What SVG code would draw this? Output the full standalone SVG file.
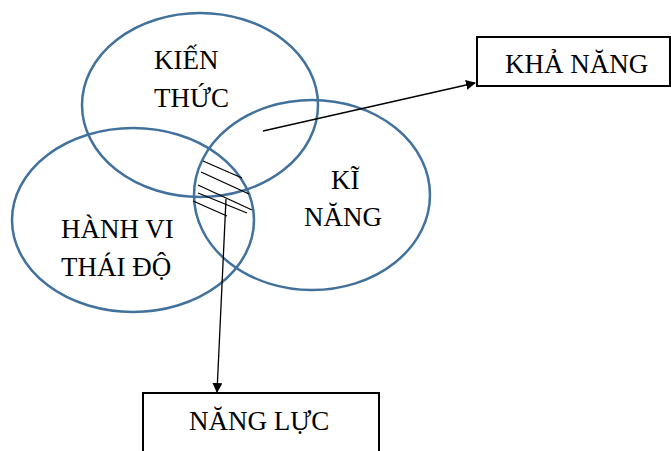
<svg xmlns="http://www.w3.org/2000/svg" width="671" height="451" viewBox="0 0 671 451">
<style>
.c{fill:none;stroke:#41719C;stroke-width:2.5}
.b{fill:#fff;stroke:#000;stroke-width:2}
.t{font-family:"Liberation Serif",serif;font-size:27px;fill:#000}
.h{stroke:#000;stroke-width:1.3}
.a{stroke:#000;stroke-width:1.3;fill:none}
</style>
<defs>
<marker id="ar" markerWidth="10" markerHeight="10" refX="9" refY="5" orient="auto" markerUnits="userSpaceOnUse" viewBox="0 0 10 10">
<path d="M0,0 L10,5 L0,10 z" fill="#000"/>
</marker>
</defs>
<g id="kien-thuc"><ellipse class="c" cx="200" cy="105" rx="118" ry="92"/>
<text class="t" x="154" y="69">KIẾN</text><text class="t" x="154" y="107">THỨC</text></g>
<g id="hanh-vi"><ellipse class="c" cx="133" cy="220" rx="121" ry="92"/>
<text class="t" x="61" y="238">HÀNH VI</text><text class="t" x="61" y="276">THÁI ĐỘ</text></g>
<g id="ki-nang"><ellipse class="c" cx="312" cy="195" rx="118" ry="95"/>
<text class="t" x="331" y="189">KĨ</text><text class="t" x="304" y="226">NĂNG</text></g>
<g id="hatch">
<line class="h" x1="203" y1="161" x2="242" y2="178"/>
<line class="h" x1="201" y1="172" x2="249" y2="194"/>
<line class="h" x1="198" y1="185" x2="252" y2="210"/>
<line class="h" x1="198" y1="193" x2="247" y2="213"/>
<line class="h" x1="193" y1="201" x2="227" y2="216"/>
</g>
<g id="kha-nang"><rect class="b" x="477" y="37" width="193" height="49"/>
<text class="t" x="505" y="73">KHẢ NĂNG</text></g>
<g id="nang-luc"><rect class="b" x="143" y="393" width="236" height="70"/>
<text class="t" x="189" y="430">NĂNG LỰC</text></g>
<g id="connectors">
<line class="a" x1="263" y1="131" x2="475" y2="83" marker-end="url(#ar)"/>
<line class="a" x1="226" y1="199" x2="217" y2="392" marker-end="url(#ar)"/>
</g>
</svg>
